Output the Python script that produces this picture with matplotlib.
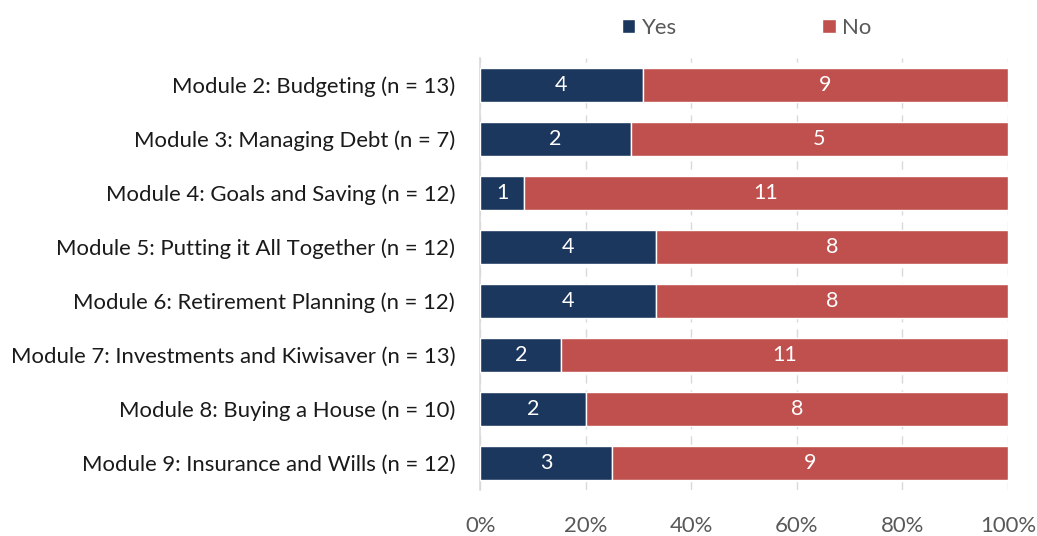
import numpy as np
import matplotlib.pyplot as plt

modules = ["Module 2: Budgeting (n = 13)",
           "Module 3: Managing Debt (n = 7)",
           "Module 4: Goals and Saving (n = 12)",
           "Module 5: Putting it All Together (n = 12)",
           "Module 6: Retirement Planning (n = 12)",
           "Module 7: Investments and Kiwisaver (n = 13)",
           "Module 8: Buying a House (n = 10)",
           "Module 9: Insurance and Wills (n = 12)"]
yes = np.array([4, 2, 1, 4, 4, 2, 2, 3])
no = np.array([9, 5, 11, 8, 8, 11, 8, 9])

plt.rcParams['font.family'] = ['Lato', 'DejaVu Sans']

total = yes + no
yes_pct = yes / total
no_pct = no / total

fig = plt.figure(figsize=(10.37, 5.36), dpi=100)
ax = fig.add_axes([0.463, 0.086, 0.509, 0.806])

pos = np.arange(len(modules))
b1 = ax.barh(pos, yes_pct, height=0.63, color='#1b375e', edgecolor='white', linewidth=1, label='Yes', zorder=3)
b2 = ax.barh(pos, no_pct, left=yes_pct, height=0.63, color='#c0504d', edgecolor='white', linewidth=1, label='No', zorder=3)

for bars, vals in ((b1, yes), (b2, no)):
    for rect, v in zip(bars, vals):
        ax.text(rect.get_x() + rect.get_width() / 2, rect.get_y() + rect.get_height() / 2,
                str(v), ha='center', va='center', color='white', fontsize=15.5, zorder=4)

ax.set_ylim(len(modules) - 0.5, -0.5)
ax.set_xlim(0, 1)
ax.set_yticks(pos)
ax.set_yticklabels(modules, fontsize=15.9, color='#1a1a1a')
ax.set_xticks(np.linspace(0, 1, 6))
ax.set_xticklabels(['0%', '20%', '40%', '60%', '80%', '100%'], fontsize=15.9, color='#595959')
ax.tick_params(axis='both', length=0)
ax.tick_params(axis='x', pad=19)
ax.tick_params(axis='y', pad=18)

ax.grid(axis='x', color='#d9d9d9', linestyle=(0, (6, 5)), linewidth=1, zorder=0)
for s in ['top', 'right', 'bottom']:
    ax.spines[s].set_visible(False)
ax.spines['left'].set_color('#d9d9d9')
ax.spines['left'].set_linewidth(1.2)

leg = fig.legend(handles=[b1, b2], loc='upper center', bbox_to_anchor=(0.72, 1.003), ncol=2,
                 frameon=False, fontsize=15.9, handlelength=0.6, handleheight=0.6,
                 handletextpad=0.3, columnspacing=6.6)
for t in leg.get_texts():
    t.set_color('#595959')

fig.savefig('out.png', dpi=100)
